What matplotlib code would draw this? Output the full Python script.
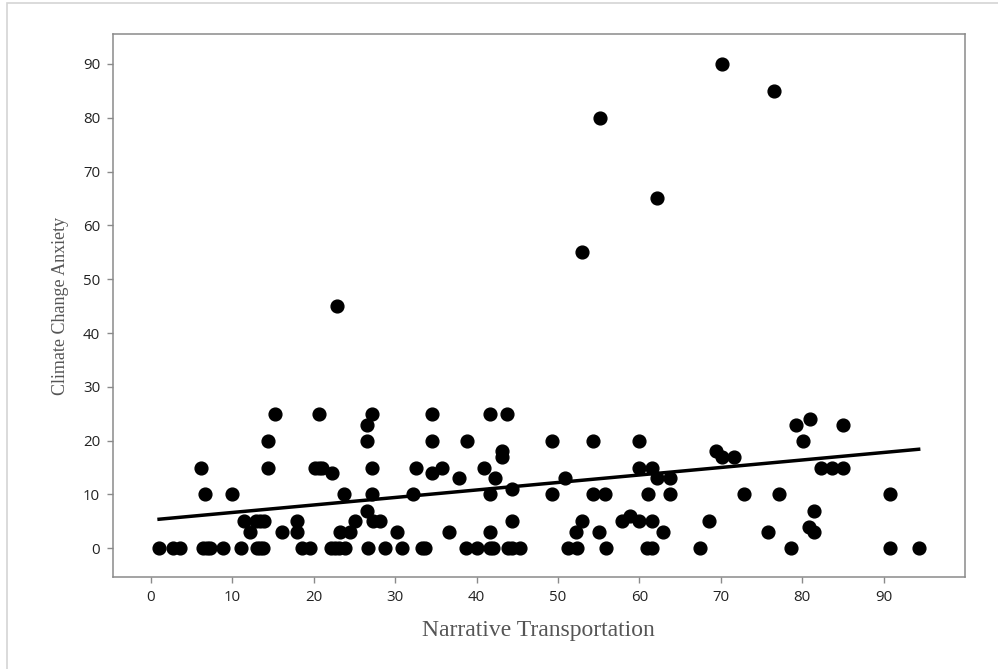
import matplotlib
matplotlib.use("Agg")
import matplotlib.pyplot as plt
from matplotlib.patches import Rectangle

# points, grouped by anxiety score
transport = [
    # anxiety 0
    1.0, 2.7, 3.6, 6.4, 6.9, 7.3, 8.8, 11.1, 13.0, 13.4, 13.8, 18.5, 19.5,
    22.1, 22.6, 23.1, 23.8, 26.7, 28.7, 30.8, 33.3, 33.7, 38.7, 40.0, 41.6,
    42.0, 43.8, 44.4, 45.3, 51.2, 52.3, 55.9, 60.9, 61.6, 67.4, 78.6, 90.8, 94.3,
    # anxiety 3
    12.2, 16.1, 18.0, 23.2, 24.4, 30.2, 36.6, 41.6, 52.2, 55.0, 62.9, 75.8, 81.4,
    # 4
    80.8,
    # 5
    11.4, 12.9, 13.4, 13.9, 18.0, 25.1, 27.3, 28.1, 44.4, 52.9, 57.8, 60.0, 61.5, 68.6,
    # 6
    58.8,
    # 7
    26.5, 81.4,
    # 10
    6.6, 10.0, 23.7, 27.2, 32.2, 41.6, 49.3, 54.3, 55.8, 61.0, 63.7, 72.9, 77.1, 90.8,
    # 11
    44.4,
    # 13
    37.9, 42.3, 50.8, 62.1, 63.7,
    # 14
    22.3, 34.5,
    # 15
    6.2, 14.4, 20.1, 20.6, 21.0, 27.2, 32.6, 35.7, 40.9, 60.0, 61.5, 82.3, 83.6, 85.0,
    # 17
    43.1, 70.1, 71.6,
    # 18
    43.1, 69.4,
    # 20
    14.4, 26.5, 34.5, 38.8, 49.3, 54.3, 60.0, 80.1,
    # 23
    26.5, 79.2, 85.0,
    # 24
    80.9,
    # 25
    15.2, 20.7, 27.1, 34.5, 41.6, 43.7,
    # high ones
    22.9, 52.9, 55.1, 62.1, 70.1, 76.5,
]
anxiety = ([0] * 38 + [3] * 13 + [4] + [5] * 14 + [6] + [7] * 2 + [10] * 14 + [11]
           + [13] * 5 + [14] * 2 + [15] * 14 + [17] * 3 + [18] * 2 + [20] * 8
           + [23] * 3 + [24] + [25] * 6 + [45, 55, 80, 65, 90, 85])

# fitted line ends
fit_x = [1.0, 94.3]
fit_y = [5.4, 18.4]

xticks = list(range(0, 100, 10))
yticks = list(range(0, 100, 10))

fig = plt.figure(figsize=(9.98, 6.69), dpi=100)
fig.patches.append(Rectangle((7 / 998, -0.1), 1.2, 1.1 - 3 / 669,
                             transform=fig.transFigure, fill=False,
                             edgecolor='#d4d4d4', linewidth=1.2))

ax = fig.add_axes([0.1129, 0.137, 0.967 - 0.1129, 0.9487 - 0.137])
ax.plot(transport, anxiety, 'o', color='black', markersize=9.2, linestyle='none')
ax.plot(fit_x, fit_y, color='black', linewidth=2.5)

ax.set_xlim(-4.7, 100)
ax.set_ylim(-5.4, 95.5)
ax.set_xticks(xticks)
ax.set_yticks(yticks)

for s in ax.spines.values():
    s.set_color('#8a8a8a')
    s.set_linewidth(1.1)
ax.tick_params(colors='#8a8a8a', length=4, width=1.0, labelcolor='#222222',
               labelsize=10.8, pad=5)
for lab in ax.get_xticklabels() + ax.get_yticklabels():
    lab.set_family('Open Sans')

ax.set_xlabel('Narrative Transportation', family='Liberation Serif',
              fontsize=17, color='#555555', labelpad=11)
ax.set_ylabel('Climate Change Anxiety', family='Liberation Serif',
              fontsize=13, color='#555555', labelpad=10)

fig.savefig('out.png', dpi=100)
